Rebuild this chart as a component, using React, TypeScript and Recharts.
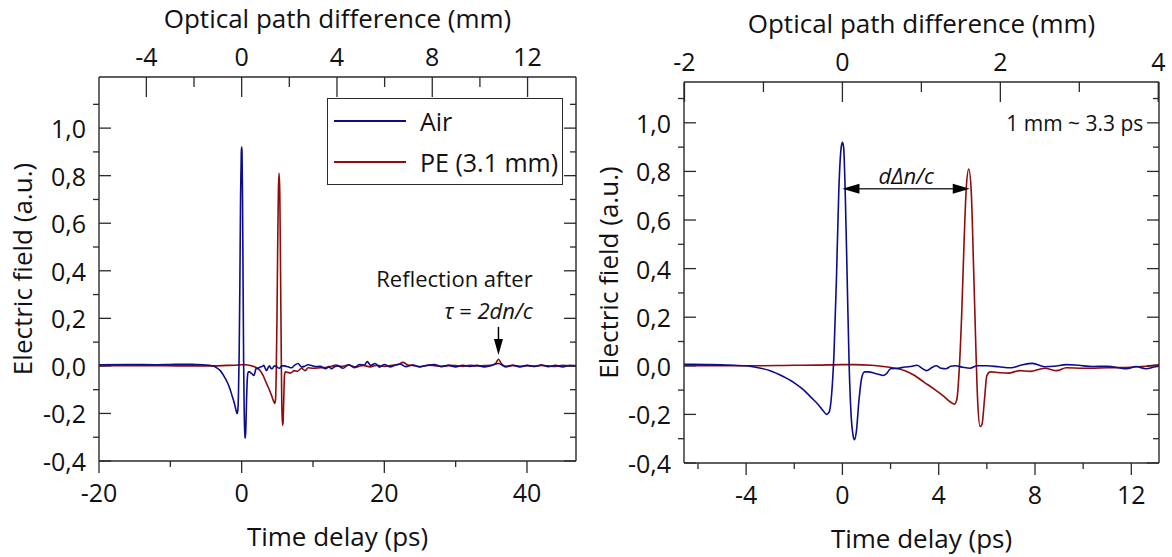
import React from 'react';
import { LineChart, Line, XAxis, YAxis, ReferenceLine, ReferenceDot, Legend } from 'recharts';

const FONT = "'Open Sans', 'Noto Sans', sans-serif";
const TXT = '#111111';
const AXC = '#2a2a2a';
const AIR_COLOR = '#0c0c8c';
const PE_COLOR = '#8e0c0c';

// time delay (ps), electric field (a.u.)
const airPulse: [number, number][] = [
  [-20, 0.005], [-16, 0.006], [-12, 0.005], [-10, 0.006], [-8, 0.007], [-6.5, 0.006], [-5.5, 0.005],
  [-4.5, 0.002], [-4, 0.0], [-3.5, -0.008], [-3, -0.02], [-2.5, -0.042], [-2, -0.07], [-1.6, -0.1],
  [-1.3, -0.13], [-1.0, -0.16], [-0.8, -0.185], [-0.65, -0.2], [-0.55, -0.19], [-0.45, -0.12],
  [-0.35, 0.05], [-0.25, 0.35], [-0.15, 0.72], [-0.05, 0.9], [0.0, 0.92], [0.05, 0.9], [0.12, 0.7],
  [0.2, 0.35], [0.28, 0.0], [0.36, -0.2], [0.45, -0.29], [0.5, -0.304], [0.58, -0.27], [0.68, -0.15],
  [0.8, -0.05], [0.92, -0.025], [1.1, -0.025], [1.3, -0.03], [1.5, -0.035], [1.7, -0.04], [1.85, -0.03],
  [2.0, -0.012], [2.3, -0.01], [2.6, -0.005], [2.9, -0.002], [3.1, 0.002], [3.3, -0.01], [3.5, -0.02],
  [3.7, -0.008], [3.9, 0.0], [4.1, -0.01], [4.3, -0.012], [4.5, -0.002], [4.7, 0.0], [5.0, -0.006],
  [5.3, -0.01], [5.6, 0.0], [6.0, 0.0], [6.5, -0.004], [7.0, -0.008], [7.4, 0.002], [7.9, 0.01],
  [8.4, -0.004], [8.8, -0.002], [9.3, 0.005], [9.8, 0.002], [10.4, -0.003], [11.0, -0.002], [11.8, -0.012],
  [12.2, -0.003], [12.6, -0.012], [13.0, -0.004], [13.5, 0.0], [14.2, -0.01], [15, 0.005], [15.8, -0.008],
  [16.5, 0.006], [17.2, 0.004], [17.6, 0.018], [18.1, 0.002], [18.7, 0.01], [19.3, -0.005], [20, 0.006],
  [20.8, -0.004], [21.5, 0.003], [22.2, 0.008], [23, -0.003], [24, 0.004], [25, -0.004], [26, 0.002],
  [27, 0.006], [28, -0.003], [29, 0.002], [30, -0.004], [31, 0.003], [32, -0.002], [33, 0.002],
  [34, -0.004], [35, 0.002], [36, 0.01], [37, -0.002], [38, 0.003], [39, -0.004], [40, 0.002],
  [41, -0.002], [42, 0.004], [43, -0.003], [44, 0.002], [45, -0.004], [46, 0.002], [46.9, 0.0],
];

const pePulse: [number, number][] = [
  [-20, 0.0], [-14, 0.001], [-8, 0.0], [-6.5, 0.0], [-4, 0.0], [-2, 0.002], [-1, 0.003], [0, 0.005],
  [0.5, 0.005], [1.2, 0.002], [1.7, -0.003], [2.2, -0.01], [2.6, -0.02], [3.0, -0.04], [3.4, -0.068],
  [3.8, -0.095], [4.2, -0.125], [4.5, -0.15], [4.65, -0.158], [4.75, -0.14], [4.85, -0.02], [4.95, 0.2],
  [5.05, 0.5], [5.15, 0.74], [5.25, 0.81], [5.35, 0.72], [5.45, 0.4], [5.55, 0.05], [5.62, -0.15],
  [5.72, -0.25], [5.8, -0.24], [5.9, -0.14], [6.0, -0.04], [6.15, -0.025], [6.5, -0.028], [6.9, -0.03],
  [7.35, -0.02], [7.8, -0.023], [8.4, -0.01], [8.9, -0.02], [9.3, -0.008], [10, -0.01], [11, -0.008],
  [12, -0.006], [12.6, -0.002], [13.2, 0.004], [14, -0.002], [15, 0.004], [16, -0.005], [17, 0.002],
  [18, -0.004], [19, 0.003], [20, -0.002], [21, 0.002], [22, 0.006], [22.6, 0.015], [23.3, 0.004],
  [24, 0.002], [25, -0.003], [26, 0.003], [27, 0.001], [28, -0.002], [29, 0.002], [30, 0.001],
  [31, -0.002], [32, 0.002], [33, 0.0], [34, 0.001], [35, 0.002], [35.6, 0.01], [36, 0.028],
  [36.4, 0.01], [37, -0.004], [38, 0.002], [39, -0.002], [40, 0.001], [41, -0.002], [42, 0.002],
  [43, 0.0], [44, -0.002], [45, 0.002], [46, 0.0], [46.9, 0.001],
];

const seriesNames = ['Air', 'PE (3.1 mm)'];
const seriesColors = [AIR_COLOR, PE_COLOR];

const yDomainLeft: [number, number] = [-0.4, 1.215];
const yDomainRight: [number, number] = [-0.4, 1.168];
const yTicks = [-0.4, -0.3, -0.2, -0.1, 0, 0.1, 0.2, 0.3, 0.4, 0.5, 0.6, 0.7, 0.8, 0.9, 1.0, 1.1];

const leftTimeDomain: [number, number] = [-20, 46.87];
const leftTimeMajor = [-20, 0, 20, 40];
const leftTimeMinor = [-10, 10, 30];
const leftMmMajor = [-4, 0, 4, 8, 12];
const leftMmMinor = [-2, 2, 6, 10];
const leftPsPerMm = 3.34;

const rightTimeDomain: [number, number] = [-6.58, 13.15];
const rightTimeMajor = [-4, 0, 4, 8, 12];
const rightTimeMinor = [-6, -2, 2, 6, 10];
const rightMmMajor = [-2, 0, 2, 4];
const rightMmMinor = [-1, 1, 3];
const rightPsPerMm = 3.28;

const toRows = (pts: [number, number][]) => pts.map(([t, e]) => ({ t, e }));
const airRows = toRows(airPulse);
const peRows = toRows(pePulse);

const has = (arr: number[], v: number) => arr.some((a) => Math.abs(a - v) < 1e-6);
const isYMajor = (v: number) => Math.abs(v * 5 - Math.round(v * 5)) < 1e-6;
const fmtY = (v: number) => v.toFixed(1).replace('.', ',');

const TICK_FS = 25;
const TITLE_FS = 26;

const bottomTick = (majors: number[]) => (p: any) => {
  const { x, y, payload } = p;
  const v = payload.value;
  const major = has(majors, v);
  return (
    <g key={`b${v}`}>
      <line x1={x} x2={x} y1={y} y2={y + (major ? 12 : 6)} stroke={AXC} strokeWidth={1.3} />
      {major && (
        <text x={x} y={y + 31} textAnchor="middle" dominantBaseline="central" fontSize={TICK_FS} fill={TXT} fontFamily={FONT}>
          {String(v)}
        </text>
      )}
    </g>
  );
};

const topTick = (majorsMm: number[], psPerMm: number) => (p: any) => {
  const { x, y, payload } = p;
  const mm = Math.round(payload.value / psPerMm);
  const major = has(majorsMm, mm);
  return (
    <g key={`t${payload.value}`}>
      <line x1={x} x2={x} y1={y} y2={y + (major ? 20 : 10)} stroke={AXC} strokeWidth={1.3} />
      {major && (
        <text x={x} y={y - 21} textAnchor="middle" dominantBaseline="central" fontSize={TICK_FS} fill={TXT} fontFamily={FONT}>
          {String(mm)}
        </text>
      )}
    </g>
  );
};

const leftTick = (p: any) => {
  const { x, y, payload } = p;
  const v = payload.value;
  const major = isYMajor(v);
  return (
    <g key={`l${v}`}>
      {major ? (
        <line x1={x} x2={x + 12} y1={y} y2={y} stroke={AXC} strokeWidth={1.3} />
      ) : (
        <line x1={x - 6} x2={x} y1={y} y2={y} stroke={AXC} strokeWidth={1.3} />
      )}
      {major && (
        <text x={x - 13} y={y} textAnchor="end" dominantBaseline="central" fontSize={TICK_FS} fill={TXT} fontFamily={FONT}>
          {fmtY(v)}
        </text>
      )}
    </g>
  );
};

const rightTick = (p: any) => {
  const { x, y, payload } = p;
  const major = isYMajor(payload.value);
  return (
    <g key={`r${payload.value}`}>
      <line x1={x - (major ? 12 : 6)} x2={x} y1={y} y2={y} stroke={AXC} strokeWidth={1.3} />
    </g>
  );
};

const titleStyle = { fontSize: TITLE_FS, fill: TXT, fontFamily: FONT };

const arrowDown = (p: any) => {
  const { x1, y1, x2, y2 } = p;
  return (
    <g>
      <line x1={x1} y1={y1} x2={x2} y2={y2 - 14} stroke="#000" strokeWidth={1.5} />
      <polygon points={`${x2},${y2} ${x2 - 4.5},${y2 - 16} ${x2 + 4.5},${y2 - 16}`} fill="#000" />
    </g>
  );
};

const arrowDouble = (p: any) => {
  const { x1, y1, x2, y2 } = p;
  return (
    <g>
      <line x1={x1 + 14} y1={y1} x2={x2 - 14} y2={y2} stroke="#333" strokeWidth={1.5} />
      <polygon points={`${x1},${y1} ${x1 + 17},${y1 - 5} ${x1 + 17},${y1 + 5}`} fill="#000" />
      <polygon points={`${x2},${y2} ${x2 - 17},${y2 - 5} ${x2 - 17},${y2 + 5}`} fill="#000" />
    </g>
  );
};

const textShape = (content: React.ReactNode, anchor: string, fs: number, italic = false) => (p: any) => (
  <text x={p.cx} y={p.cy} textAnchor={anchor} dominantBaseline="central" fontSize={fs} fill={TXT} fontFamily={FONT} fontStyle={italic ? 'italic' : 'normal'}>
    {content}
  </text>
);

const LegendBox = () => (
  <div
    style={{
      width: 236, height: 87, boxSizing: 'border-box', border: `1.4px solid ${AXC}`, background: '#fff',
      fontFamily: FONT, fontSize: 25, color: TXT, display: 'flex', flexDirection: 'column', justifyContent: 'space-around',
      padding: '2px 0',
    }}
  >
    {seriesNames.map((n, i) => (
      <div key={n} style={{ display: 'flex', alignItems: 'center', height: 40 }}>
        <div style={{ width: 72, marginLeft: 6, marginRight: 14, borderTop: `2px solid ${seriesColors[i]}` }} />
        <span style={{ lineHeight: '40px' }}>{n}</span>
      </div>
    ))}
  </div>
);

type PanelProps = {
  left: number; width: number; leftW: number; rightW: number; topH: number; bottomH: number;
  tDomain: [number, number]; yDomain: [number, number];
  tMajor: number[]; tMinor: number[]; mmMajor: number[]; mmMinor: number[]; psPerMm: number;
  children?: React.ReactNode;
};

function Panel(props: PanelProps) {
  const { left, width, leftW, rightW, topH, bottomH, tDomain, yDomain, tMajor, tMinor, mmMajor, mmMinor, psPerMm } = props;
  const bottomTicks = [...tMajor, ...tMinor].sort((a, b) => a - b);
  const topTicks = [...mmMajor, ...mmMinor].sort((a, b) => a - b).map((m) => m * psPerMm);
  return (
    <div style={{ position: 'absolute', left, top: 0 }}>
      <LineChart width={width} height={557} margin={{ top: 0, right: 0, bottom: 0, left: 0 }}>
        <XAxis
          xAxisId="b" type="number" dataKey="t" domain={tDomain} allowDataOverflow ticks={bottomTicks} interval={0}
          tickSize={0} tickMargin={0} tickLine={false} height={bottomH} axisLine={{ stroke: AXC, strokeWidth: 1.4 }}
          tick={bottomTick(tMajor)}
          label={{
            content: (lp: any) => {
              const vb = lp.viewBox || {};
              return (
                <text x={vb.x + vb.width / 2} y={vb.y + 75} textAnchor="middle" dominantBaseline="central" {...titleStyle}>
                  Time delay (ps)
                </text>
              );
            },
          }}
        />
        <XAxis
          xAxisId="t" orientation="top" type="number" dataKey="t" domain={tDomain} allowDataOverflow ticks={topTicks} interval={0}
          tickSize={0} tickMargin={0} tickLine={false} height={topH} axisLine={{ stroke: AXC, strokeWidth: 1.4 }}
          tick={topTick(mmMajor, psPerMm)}
          label={{
            content: (lp: any) => {
              const vb = lp.viewBox || {};
              return (
                <text x={vb.x + vb.width / 2} y={vb.y + vb.height - 59} textAnchor="middle" dominantBaseline="central" {...titleStyle}>
                  Optical path difference (mm)
                </text>
              );
            },
          }}
        />
        <YAxis
          yAxisId="l" type="number" domain={yDomain} allowDataOverflow ticks={yTicks} interval={0} width={leftW}
          tickSize={0} tickMargin={0} tickLine={false} axisLine={{ stroke: AXC, strokeWidth: 1.4 }} tick={leftTick}
          label={{
            content: (lp: any) => {
              const vb = lp.viewBox || {};
              const cx = vb.x + 22;
              const cy = vb.y + vb.height / 2;
              return (
                <text x={cx} y={cy} transform={`rotate(-90, ${cx}, ${cy})`} textAnchor="middle" dominantBaseline="central" {...titleStyle}>
                  Electric field (a.u.)
                </text>
              );
            },
          }}
        />
        <YAxis
          yAxisId="r" orientation="right" type="number" domain={yDomain} allowDataOverflow ticks={yTicks} interval={0} width={rightW}
          tickSize={0} tickMargin={0} tickLine={false} axisLine={{ stroke: AXC, strokeWidth: 1.4 }} tick={rightTick}
        />
        <Line xAxisId="b" yAxisId="l" data={peRows} dataKey="e" name={seriesNames[1]} type="monotone" stroke={PE_COLOR}
          strokeWidth={1.6} dot={false} isAnimationActive={false} />
        <Line xAxisId="b" yAxisId="l" data={airRows} dataKey="e" name={seriesNames[0]} type="monotone" stroke={AIR_COLOR}
          strokeWidth={1.6} dot={false} isAnimationActive={false} />
        {props.children}
      </LineChart>
    </div>
  );
}

export default function App() {
  return (
    <div style={{ position: 'absolute', left: 0, top: 0, width: 1172, height: 557, background: '#fff', overflow: 'hidden' }}>
      <Panel left={0} width={590} leftW={99} rightW={14} topH={77} bottomH={96}
        tDomain={leftTimeDomain} yDomain={yDomainLeft} tMajor={leftTimeMajor} tMinor={leftTimeMinor}
        mmMajor={leftMmMajor} mmMinor={leftMmMinor} psPerMm={leftPsPerMm}>
        <ReferenceDot xAxisId="b" yAxisId="l" x={40.8} y={0.37} r={0} shape={textShape('Reflection after', 'end', 22)} />
        <ReferenceDot xAxisId="b" yAxisId="l" x={40.8} y={0.235} r={0}
          shape={textShape(<><tspan fontStyle="italic">τ</tspan> = <tspan fontStyle="italic">2dn/c</tspan></>, 'end', 22)} />
        <ReferenceLine xAxisId="b" yAxisId="l" segment={[{ x: 36, y: 0.164 }, { x: 36, y: 0.046 }]} shape={arrowDown} />
        <Legend layout="vertical" align="center" verticalAlign="middle"
          wrapperStyle={{ position: 'absolute', left: 327, top: 98, width: 236, height: 87 }}
          content={() => <LegendBox />} />
      </Panel>
      <Panel left={586} width={586} leftW={98} rightW={13} topH={82} bottomH={94}
        tDomain={rightTimeDomain} yDomain={yDomainRight} tMajor={rightTimeMajor} tMinor={rightTimeMinor}
        mmMajor={rightMmMajor} mmMinor={rightMmMinor} psPerMm={rightPsPerMm}>
        <ReferenceDot xAxisId="b" yAxisId="l" x={12.5} y={1.0} r={0} shape={textShape('1 mm ~ 3.3 ps', 'end', 21)} />
        <ReferenceDot xAxisId="b" yAxisId="l" x={2.65} y={0.786} r={0} shape={textShape('dΔn/c', 'middle', 22, true)} />
        <ReferenceLine xAxisId="b" yAxisId="l" segment={[{ x: 0, y: 0.729 }, { x: 5.29, y: 0.729 }]} shape={arrowDouble} />
      </Panel>
    </div>
  );
}
